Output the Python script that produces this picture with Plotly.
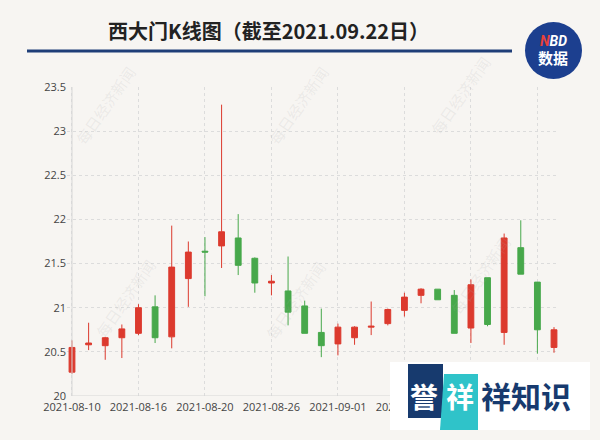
import plotly.graph_objects as go

dates = ["2021-08-10", "2021-08-11", "2021-08-12", "2021-08-13", "2021-08-16",
         "2021-08-17", "2021-08-18", "2021-08-19", "2021-08-20", "2021-08-23",
         "2021-08-24", "2021-08-25", "2021-08-26", "2021-08-27", "2021-08-30",
         "2021-08-31", "2021-09-01", "2021-09-02", "2021-09-03", "2021-09-06",
         "2021-09-07", "2021-09-08", "2021-09-09", "2021-09-10", "2021-09-13",
         "2021-09-14", "2021-09-15", "2021-09-16", "2021-09-17", "2021-09-22"]
open_ = [20.27, 20.58, 20.57, 20.66, 20.71, 21.01, 20.67, 21.33, 21.64, 21.70,
         21.79, 21.56, 21.28, 21.19, 21.02, 20.72, 20.59, 20.66, 20.78, 20.82,
         20.97, 21.14, 21.21, 21.14, 20.77, 21.34, 20.72, 21.68, 21.29, 20.55]
close = [20.55, 20.60, 20.66, 20.76, 21.00, 20.66, 21.46, 21.63, 21.63, 21.86,
         21.48, 21.28, 21.30, 20.95, 20.71, 20.57, 20.78, 20.78, 20.79, 20.98,
         21.12, 21.21, 21.09, 20.71, 21.26, 20.81, 21.79, 21.38, 20.75, 20.75]
high = [20.63, 20.83, 20.67, 20.81, 21.04, 21.14, 21.93, 21.75, 21.80, 23.30,
        22.06, 21.57, 21.37, 21.58, 21.08, 20.99, 20.82, 20.79, 21.07, 20.99,
        21.17, 21.22, 21.21, 21.20, 21.32, 21.34, 21.84, 21.99, 21.29, 20.78]
low = [20.25, 20.52, 20.41, 20.43, 20.69, 20.60, 20.54, 21.01, 21.13, 21.45,
       21.37, 21.17, 21.14, 20.80, 20.71, 20.44, 20.46, 20.58, 20.69, 20.80,
       20.90, 21.05, 21.09, 20.71, 20.60, 20.79, 20.58, 21.38, 20.48, 20.49]
y_ticks = [20, 20.5, 21, 21.5, 22, 22.5, 23, 23.5]
y_tick_text = ["20", "20.5", "21", "21.5", "22", "22.5", "23", "23.5"]

idx = list(range(len(dates)))
label_idx = idx[::4]
label_text = [dates[i] for i in label_idx]

RED = "#dc3a2e"
GREEN = "#47a84b"
BG = "#f7f5f2"
GRID = "#dcdcdc"

W, H = 600, 440
L, R, T, B = 67, 41, 87, 44
PW, PH = W - L - R, H - T - B


def px(x):
    return (x - L) / PW


def py(y):
    return (H - B - y) / PH


def ann(text, x, y, size, color, family="Noto Sans CJK SC", angle=0):
    return dict(text=text, xref="paper", yref="paper", x=px(x), y=py(y),
                xanchor="center", yanchor="middle", showarrow=False,
                textangle=angle, font=dict(family=family, size=size, color=color))


fig = go.Figure()
fig.add_trace(go.Candlestick(
    x=idx, open=open_, high=high, low=low, close=close,
    increasing=dict(line=dict(color=RED, width=1), fillcolor=RED),
    decreasing=dict(line=dict(color=GREEN, width=1), fillcolor=GREEN),
    whiskerwidth=0, showlegend=False,
))

shapes = [
    dict(type="line", xref="x", yref="y", x0=0, x1=0, y0=20, y1=23.5,
         line=dict(color="#d6d6d6", width=1)),
    dict(type="line", xref="x", yref="y", x0=0, x1=29, y0=20, y1=20,
         line=dict(color="#d6d6d6", width=1)),
    dict(type="line", xref="paper", yref="paper", x0=px(27), x1=px(512),
         y0=py(51), y1=py(51), line=dict(color="#1f3e78", width=3)),
    dict(type="circle", xref="paper", yref="paper", x0=px(525), x1=px(582),
         y0=py(22), y1=py(79), fillcolor="#1c3f8f", line=dict(width=0)),
    dict(type="rect", xref="paper", yref="paper", x0=px(390), x1=px(590),
         y0=py(362), y1=py(430), fillcolor="#ffffff", line=dict(width=0), layer="above"),
    dict(type="rect", xref="paper", yref="paper", x0=px(408), x1=px(443),
         y0=py(364), y1=py(418), fillcolor="#173a6e", line=dict(width=0), layer="above"),
    dict(type="path", xref="paper", yref="paper",
         path=f"M {px(444)},{py(374)} L {px(478)},{py(374)} L {px(478)},{py(430)} L {px(440)},{py(430)} Z",
         fillcolor="#2fc3c9", line=dict(width=0), layer="above"),
]

annotations = [
    ann("<b>西大门K线图（截至2021.09.22日）</b>", 268, 30, 20, "#222222"),
    ann("<b><i><span style='color:#e8413a'>N</span>BD</i></b>", 553, 41, 14, "#ffffff", family="Roboto"),
    ann("<b>数据</b>", 553, 58, 15, "#ffffff"),
    ann("<b>誉</b>", 424, 396, 28, "#ffffff"),
    ann("<b>祥</b>", 460, 396, 28, "#ffffff"),
    ann("<b>祥知识</b>", 526, 395, 30, "#173a6e"),
]

for (wx, wy) in [(105, 105), (125, 298), (298, 105), (295, 300), (480, 275), (460, 95)]:
    annotations.append(ann("每日经济新闻", wx, wy, 15, "rgba(170,170,170,0.16)", angle=-55))

fig.update_layout(
    width=W, height=H,
    margin=dict(l=L, r=R, t=T, b=B),
    paper_bgcolor=BG, plot_bgcolor=BG,
    shapes=shapes, annotations=annotations,
    xaxis=dict(range=[-0.3, 29.3], tickvals=label_idx, ticktext=label_text,
               showgrid=True, gridcolor=GRID, griddash="dot", gridwidth=1,
               zeroline=False, showline=False, ticks="", ticklabelstandoff=3,
               rangeslider=dict(visible=False),
               tickfont=dict(family="Open Sans", size=11, color="#444444")),
    yaxis=dict(range=[20, 23.5], tickvals=y_ticks, ticktext=y_tick_text,
               showgrid=True, gridcolor=GRID, griddash="dot", gridwidth=1,
               zeroline=False, showline=False, ticks="",
               tickfont=dict(family="Open Sans", size=11, color="#444444")),
    boxgap=0.5,
)

fig.write_html("out.html", config={"displayModeBar": False},
               post_script="document.body.style.margin='0';document.body.style.background='" + BG + "';")
